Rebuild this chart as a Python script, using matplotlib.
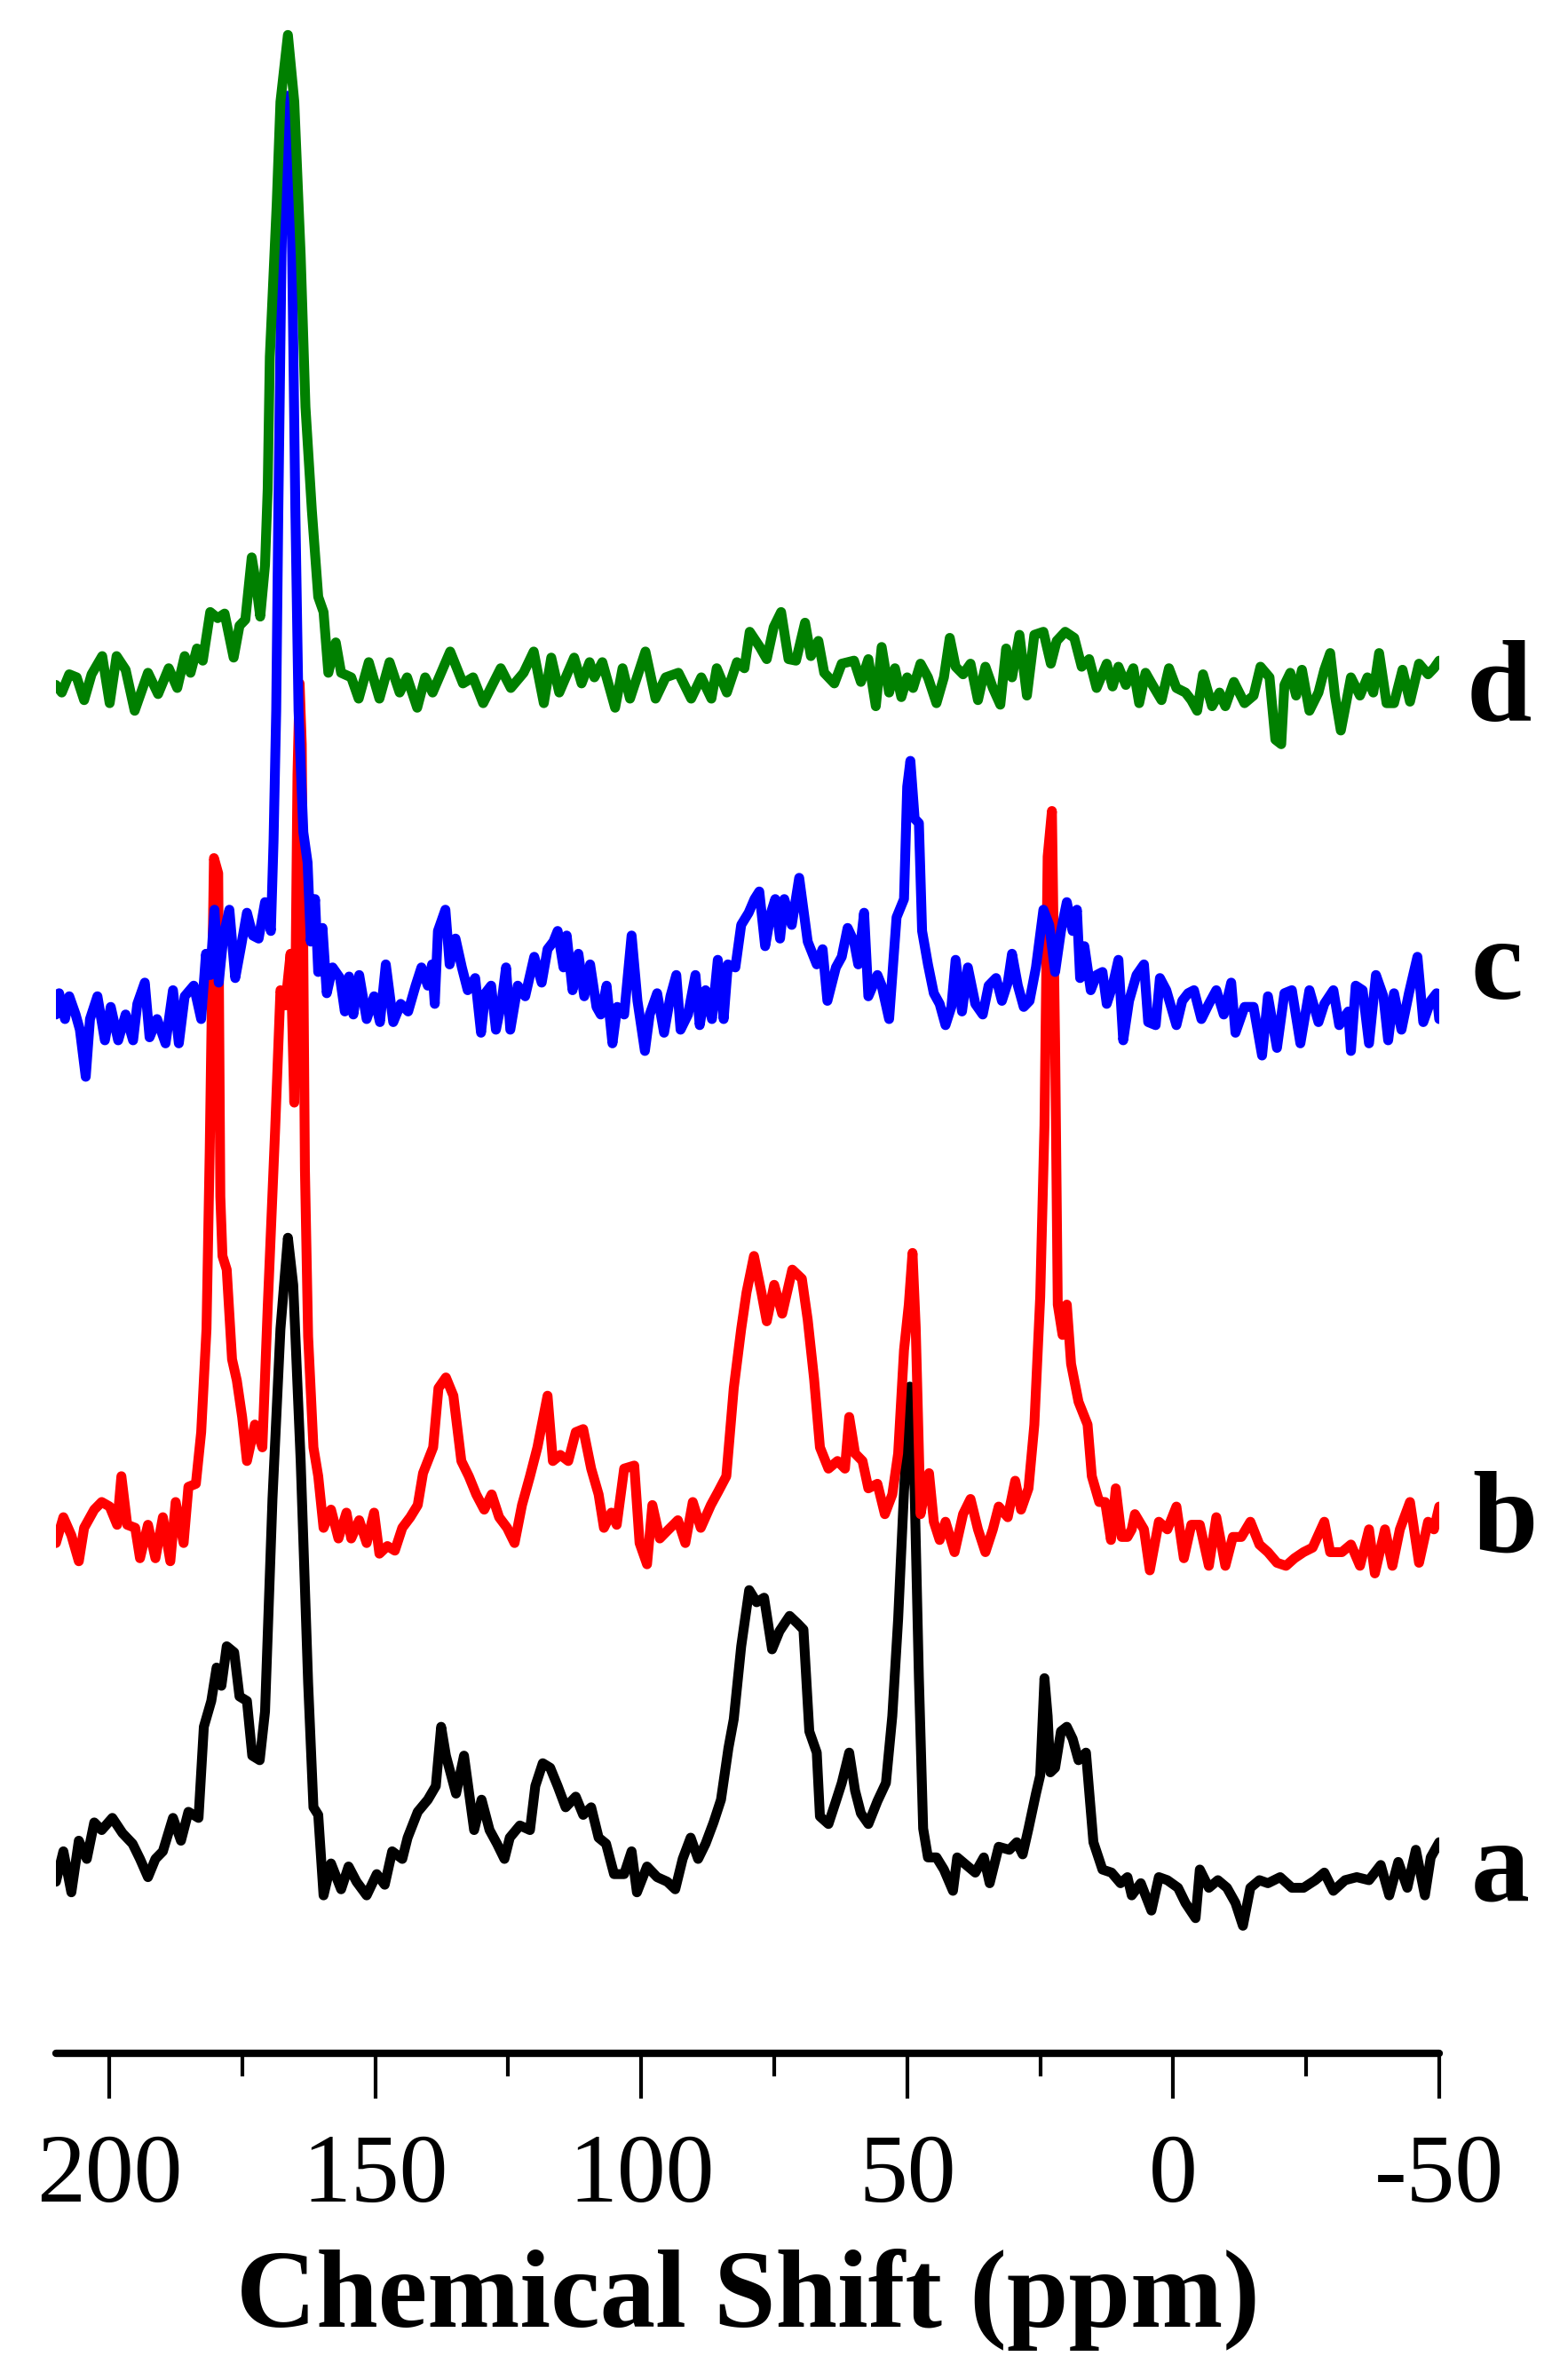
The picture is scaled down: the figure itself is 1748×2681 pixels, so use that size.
import matplotlib
matplotlib.use("Agg")
import matplotlib.pyplot as plt
from matplotlib.ticker import MultipleLocator

# ===============================
# Data (intensity in arbitrary units)
# ===============================
a_ppm = [210, 208.6, 207.1, 205.7, 204.2, 202.8, 201.4, 199.4, 197.5, 195.6, 194.2, 192.7, 191.3, 189.9,
         188, 186.5, 185.1, 183.2, 182.2, 180.8, 179.8, 178.9, 177.9, 176.5, 175.5, 174.1, 173.1, 171.7,
         170.7, 169.3, 167.8, 166.4, 165.4, 164, 162.6, 161.6, 160.7, 159.7, 158.3, 156.4, 155, 153.5,
         151.6, 149.7, 148.2, 146.8, 144.9, 143.9, 142, 140.1, 138.6, 137.6, 136.7, 134.8, 133.3, 131.4,
         130, 128.5, 127.1, 125.7, 124.7, 122.8, 120.9, 119.9, 118.5, 117.1, 115.7, 114.2, 112.3, 110.9,
         109.4, 108, 106.6, 105.1, 103.2, 101.8, 100.8, 98.9, 97, 95.1, 93.6, 92.2, 90.7, 89.3, 87.9,
         86.4, 85, 83.6, 82.6, 81.2, 79.7, 78.3, 76.9, 75.4, 74, 72.1, 70.6, 69.5, 68.4, 67, 66.4, 64.8,
         63.4, 62.3, 60.9, 59.8, 58.7, 57.3, 55.6, 54, 52.8, 51.7, 50.6, 49.5, 48.6, 47.8, 47, 46.1, 44.5,
         43.1, 41.4, 40.6, 38.9, 37.2, 35.6, 34.5, 32.8, 30.8, 29.4, 28.3, 27.2, 25.8, 25, 24.2, 23.6,
         23.1, 22.2, 21.1, 20, 18.9, 17.8, 16.4, 15, 13.3, 11.6, 9.9, 8.6, 7.8, 6.1, 4.1, 2.7, 1.1, -0.9,
         -2.3, -4.2, -5, -6.7, -8.4, -10.1, -11.7, -13.1, -14.5, -16.2, -17.8, -20.1, -22.3, -24.5, -26.7,
         -28.4, -30.1, -32.3, -34.5, -36.8, -39, -40.6, -42.3, -44, -45.6, -47.3, -48.4, -50]
a_int = [1, 21, -6, 28, 16, 40, 35, 43, 33, 26, 16, 4, 16, 21,
         43, 28, 47, 43, 103, 120, 142, 130, 156, 152, 123, 120, 84, 81,
         113, 253, 365, 425, 394, 278, 132, 50, 45, -8, 13, -4, 11, 1,
         -8, 6, -1, 21, 16, 30, 47, 55, 64, 103, 84, 59, 84, 35,
         55, 35, 26, 16, 30, 38, 35, 64, 79, 76, 64, 50, 57, 45,
         50, 30, 26, 6, 6, 21, -6, 11, 4, 1, -4, 16, 30, 16, 26,
         40, 55, 89, 108, 156, 193, 185, 188, 154, 166, 176, 171, 167, 100, 86, 44, 39,
         54, 66, 86, 61, 46, 39, 54, 66, 110, 174, 258, 327, 258, 135, 36, 17, 17,
         9, -5, 17, 12, 7, 17, 0, 24, 22, 27, 19, 36, 59, 71, 135, 110,
         73, 76, 100, 103, 95, 81, 86, 27, 9, 7, 0, 4, -8, 0, -18, 4, 2, -3,
         -13, -23, 9, -3, 2, -3, -13, -28, -3, 2, 0, 4, -3, -3, 2,
         7, -5, 2, 4, 2, 12, -8, 14, -3, 22, -8, 17, 27]

b_ppm = [210, 208.6, 207.1, 205.7, 204.7, 202.8, 201.4, 199.9, 198.5, 197.7, 196.6, 195.1, 194.2, 192.7,
         191.3, 189.9, 188.5, 187.5, 186, 185.1, 183.7, 182.7, 181.7, 181.1, 180.3, 179.5, 179.1, 178.7,
         177.9, 176.9, 176, 175, 174.1, 172.6, 171.2, 170.2, 168.8, 167.8, 166.9, 165.9, 165.2, 164.6,
         164.2, 163.8, 163.2, 162.6, 161.6, 160.7, 159.7, 158.3, 156.9, 155.4, 154.5, 153, 151.6, 150.2,
         149.2, 147.7, 146.3, 144.9, 143.4, 142, 141, 140.1, 139.1, 138.1, 136.7, 135.3, 133.8, 132.4,
         131, 129.5, 128.1, 126.7, 125.2, 123.8, 122.4, 120.9, 119.5, 117.6, 116.6, 115.2, 113.7, 112.3,
         110.9, 109.4, 108, 107, 105.6, 104.6, 103.2, 101.3, 100.3, 98.9, 97.9, 96.5, 95.1, 93.1, 91.7,
         90.3, 88.8, 86.9, 85.5, 84, 82.6, 81.2, 80.2, 78.8, 77.4, 76.4, 75, 73.5, 71.6, 69.8, 68.7, 67.5,
         66.4, 64.8, 63.1, 61.7, 60.9, 59.8, 58.4, 57.3, 55.6, 54.2, 52.8, 51.7, 50.6, 49.7, 49, 48.4,
         47.5, 46.7, 45.9, 45, 43.9, 42.8, 41.1, 39.5, 38.1, 36.7, 35.3, 33.9, 32.8, 31.1, 29.7, 28.6,
         27.2, 26.1, 25, 24.2, 23.6, 22.8, 22.2, 21.7, 20.8, 20, 19.2, 17.8, 16.1, 15.3, 13.9, 12.8, 11.7,
         10.8, 9.7, 8.6, 7.8, 7.2, 5.5, 4.4, 2.7, 1.1, -0.6, -2, -3.4, -5, -6.7, -8.1, -9.8, -11.2, -12.8,
         -14.5, -16.2, -17.8, -19.5, -21.2, -22.8, -24.5, -26.2, -28.4, -29.5, -31.7, -33.4, -35.1,
         -36.8, -37.9, -39.8, -41.2, -42.6, -44.5, -46.2, -47.9, -49, -50]
b_int = [-6, 11, -1, -18, 4, 16, 21, 18, 6, 38, 6, 4, -16, 6,
         -16, 11, -18, 21, -6, 31, 33, 67, 135, 251, 445, 435, 222, 183,
         174, 115, 101, 77, 48, 72, 57, 149, 266, 358, 348, 382, 284, 500,
         560, 520, 240, 130, 57, 38, 4, 16, -3, 14, -3, 9, -6, 14,
         -13, -8, -11, 4, 11, 19, 40, 48, 57, 96, 103, 91, 48, 38,
         26, 16, 26, 11, 4, -6, 19, 38, 57, 91, 48, 52, 48, 67,
         69, 43, 26, 4, 14, 6, 43, 45, -6, -20, 19, -3, 2, 9, -6,
         21, 4, 19, 28, 38, 96, 135, 159, 183, 159, 140, 164, 145, 174, 168, 141, 102,
         57, 43, 48, 43, 77, 53, 48, 30, 33, 13, 26, 53, 121, 151, 185, 136,
         13, 28, 40, 8, -4, 8, -12, 13, 23, 3, -12, 3, 18, 11, 35, 16,
         30, 72, 156, 269, 446, 476, 323, 151, 131, 151, 112, 87, 72, 38, 21, 21, -4,
         30, -2, -2, 3, 13, 3, -24, 8, 3, 18, -16, 6, 6, -21, 11, -21, -2, -2,
         8, -7, -12, -19, -21, -16, -12, -9, 8, -12, -12, -7, -21,
         3, -26, 3, -21, 3, 21, -19, 8, 3, 18]

c_ppm = [210, 209.4, 208.3, 207.5, 206.3, 205.5, 204.4, 203.6, 202.2, 200.8, 199.7, 198.3, 196.9, 195.5,
         194.7, 193.3, 192.4, 191, 189.4, 188, 186.9, 185.8, 184.1, 182.7, 181.8, 181, 180.2, 179.4,
         178.5, 177.4, 176.3, 175.2, 174.1, 173, 171.9, 170.7, 169.6, 169.1, 168.6, 168.2, 167.6, 167,
         166.5, 166, 165.6, 165, 164.4, 163.5, 162.7, 162.1, 161.3, 160.7, 159.9, 159.1, 158, 156.6,
         155.7, 154.9, 154.1, 153, 151.6, 150.2, 149.1, 148, 146.6, 145.2, 143.8, 142.4, 141.3, 140.1,
         139.3, 138.8, 138.2, 136.8, 136, 134.9, 133.7, 132.6, 131.2, 130.1, 129.3, 128.2, 127.3, 126.2,
         125.4, 124.6, 123.2, 121.8, 120.1, 118.7, 117.6, 116.5, 115.7, 114.6, 114, 112.9, 111.8, 110.7,
         109.6, 108.4, 107.6, 106.5, 105.4, 104.5, 103.2, 101.8, 100.7, 99.3, 98.4, 97, 95.7, 94.5, 93.4,
         92.6, 91.2, 89.8, 89, 87.9, 86.7, 85.6, 84.5, 83.7, 82.3, 81.2, 79.8, 78.7, 77.8, 76.7, 75.6,
         74.8, 73.9, 73.1, 71.7, 70.3, 68.7, 67, 65.9, 65, 63.4, 62.3, 61.2, 60, 59.2, 58.1, 57.3, 55.6,
         54.8, 53.4, 52, 50.6, 50, 49.4, 48.6, 47.8, 47.2, 46.1, 45, 43.9, 42.8, 41.7, 40.9, 39.7, 38.6,
         37.2, 35.8, 34.7, 33.3, 32.2, 31.1, 30.3, 29.2, 28.1, 27, 25.8, 24.4, 23.3, 22.2, 21.1, 20, 18.9,
         18.1, 17.5, 16.7, 15.5, 14.4, 13.3, 12.5, 11.4, 10.3, 9.4, 8.3, 6.9, 5.5, 4.7, 3.3, 2.5, 1.3,
         -0.6, -1.7, -2.8, -3.9, -5.3, -6.7, -8.1, -9.5, -10.9, -11.7, -13.4, -15.1, -16.7, -17.8, -19.5,
         -20.9, -22.3, -23.9, -25.6, -27.3, -28.4, -30.1, -31.2, -32.9, -33.4, -34.3, -35.6, -36.8, -38.1,
         -39.5, -40.4, -41.5, -42.9, -44.3, -45.9, -47, -48.4, -49.5, -50]
c_int = [0, 14, -3, 12, 0, -10, -41, -3, 12, -17, 5, -17, 0, -17,
         7, 21, -15, -3, -19, 16, -19, 12, 19, -3, 40, 26, 69, 21,
         52, 69, 24, 45, 67, 52, 50, 74, 55, 114, 200, 332, 500, 600,
         605, 590, 500, 332, 200, 120, 100, 48, 76, 28, 57, 14, 31, 24,
         2, 25, 0, 26, -3, 12, -5, 33, -5, 7, 2, 19, 31, 19,
         33, 7, 55, 69, 33, 50, 31, 16, 24, -12, 14, 19, -10, 9,
         31, -10, 19, 12, 38, 21, 43, 48, 55, 31, 52, 16, 40, 12,
         33, 5, 0, 19, -19, 5, 0, 52, 9, -24, 0, 14, -12, 12, 26,
         -10, 0, 26, -7, 16, -3, 36, -3, 33, 31, 59, 67, 76, 81, 45, 67,
         76, 50, 76, 59, 90, 48, 33, 43, 9, 31, 38, 57, 48, 33, 67, 12, 26,
         19, -3, 64, 76, 150, 167, 129, 126, 55, 33, 14, 7, -7, 5, 36, 2, 31,
         7, 0, 19, 24, 9, 21, 40, 19, 5, 9, 31, 69, 59, 28, 55, 74, 55,
         69, 24, 45, 16, 26, 28, 7, 19, 36, -17, 9, 26, 33, -5, -7, 24, 16,
         -7, 9, 14, 16, -3, 7, 16, 0, 21, -12, 5, 5, -27, 12, -22,
         14, 16, -19, 16, -5, 7, 16, -7, 2, -24, 19, 16, -19, 26,
         12, -17, 14, -10, 14, 38, -5, 9, 14, -3]

d_ppm = [210, 208.9, 207.5, 206.1, 204.7, 203.3, 201.3, 199.9, 198.6, 196.9, 195.2, 192.7, 190.8, 188.8,
         187.2, 185.8, 184.7, 183.5, 182.4, 181, 179.6, 178.3, 176.6, 175.5, 174.4, 173.2, 172.4, 171.6,
         170.7, 170.2, 169.8, 168.5, 167.8, 166.4, 165.2, 164, 163.1, 161.9, 160.7, 159.7, 158.8, 157.4,
         156.4, 154.5, 153.1, 151.2, 149.2, 147.3, 145.4, 144, 142.1, 140.6, 139.2, 135.9, 133.5, 131.6,
         129.7, 126.4, 124.5, 122.1, 120.2, 118.3, 116.9, 115.4, 112.6, 111.2, 109.7, 108.8, 107.3, 104.9,
         103.5, 102.1, 99.2, 97.3, 95.4, 93, 90.6, 88.7, 86.8, 85.8, 83.9, 82, 80.6, 79.6, 77.7, 76.4,
         75.1, 73.7, 72.3, 70.9, 69.2, 68.1, 66.7, 65.6, 63.7, 62.3, 60, 58.7, 57.3, 55.9, 54.8, 53.4,
         52.3, 51.1, 50, 48.9, 47.5, 46.1, 44.5, 43.1, 42, 40.9, 39.5, 38.1, 36.7, 35.3, 33.9, 32.5, 31.4,
         30.3, 28.9, 27.5, 26.1, 24.4, 23, 21.9, 20.3, 18.6, 17.2, 15.8, 14.4, 12.5, 11.4, 10.3, 8.9, 7.5,
         6.4, 5.2, 3.9, 2.2, 0.8, -0.6, -2.3, -3.4, -4.5, -5.6, -7.3, -8.7, -9.8, -11.4, -13.4, -15.1,
         -16.4, -18.1, -19.2, -20.3, -20.9, -22, -23.1, -24.2, -25.6, -27.3, -28.4, -29.5, -30.4, -31.5,
         -32.6, -33.4, -35.1, -36.5, -37.6, -38.7, -40.1, -41.5, -43.1, -44.5, -46.2, -47.9, -49, -50]
d_int = [1, -4, 8, 6, -9, 8, 20, -11, 20, 11, -16, 9, -5, 12,
         -1, 20, 9, 25, 17, 49, 45, 48, 19, 40, 44, 85, 68, 46,
         80, 130, 217, 318, 385, 429, 385, 284, 184, 116, 59, 49, 9, 29,
         9, 6, -8, 16, -8, 16, -4, 6, -14, 6, -4, 23, 2, 6,
         -11, 12, -1, 9, 23, -11, 19, -4, 19, 2, 16, 6, 16, -14,
         12, -8, 23, -8, 6, 9, -8, 6, -8, 12, -4, 16, 12, 36, 26, 18,
         39, 49, 18, 17, 42, 20, 30, 9, 2, 15, 17, 3, 18, -13, 26, -4,
         12, -7, 6, -1, 15, 6, -11, 6, 32, 13, 8, 15, -9, 13, -1, -12, 25,
         6, 34, -6, 34, 36, 15, 30, 36, 32, 13, 18, -1, 15, 0, 13, 1, 12,
         -11, 9, 1, -9, 12, -1, -4, -9, -16, 8, -13, -4, -13, 3, -11, -6,
         13, 6, -35, -38, 1, 9, -6, 11, -16, -4, 11, 22, -6, -29,
         -9, 6, -6, 6, -4, 22, -11, -11, 11, -10, 15, 8, 12, 17]

labels = ["a", "b", "c", "d"]
colors = ["#000000", "#ff0000", "#0000ff", "#008000"]
offsets = [112, 342, 684, 900]   # vertical stacking of the spectra

series = [(a_ppm, a_int), (b_ppm, b_int), (c_ppm, c_int), (d_ppm, d_int)]

# ===============================
# Plot
# ===============================
plt.rcParams["font.family"] = ["Liberation Serif", "DejaVu Serif"]
plt.rcParams["axes.unicode_minus"] = False

fig = plt.figure(figsize=(17.48, 26.81), dpi=100)
ax = fig.add_axes([63 / 1748, 368 / 2681, 1558 / 1748, 2313 / 2681])

for (x, y), col, off in zip(series, colors, offsets):
    ax.plot(x, [v + off for v in y], color=col, lw=8, solid_joinstyle="round",
            solid_capstyle="round")

ax.set_xlim(210, -50)
ax.set_ylim(0, 1352)

for s in ["left", "right", "top"]:
    ax.spines[s].set_visible(False)
ax.spines["bottom"].set_linewidth(6)
ax.spines["bottom"].set_capstyle("round")
ax.set_yticks([])

ax.xaxis.set_major_locator(MultipleLocator(50))
ax.xaxis.set_minor_locator(MultipleLocator(25))
ax.tick_params(axis="x", which="major", direction="out", length=37, width=3,
               pad=28, labelsize=79)
ax.tick_params(axis="x", which="minor", direction="out", length=19, width=3)

ax.set_xlabel("Chemical Shift (ppm)", fontsize=90, fontweight="bold")
ax.xaxis.set_label_coords(0.5, -0.095)

# curve labels at the right end
label_pos = [(1690, 2141), (1695, 1748), (1686, 1125), (1688, 812)]
for lab, (px, py) in zip(labels, label_pos):
    fig.text(px / 1748, 1 - py / 2681, lab, fontsize=95, fontweight="bold",
             ha="center", va="baseline")

fig.savefig("out.png", dpi=100)
